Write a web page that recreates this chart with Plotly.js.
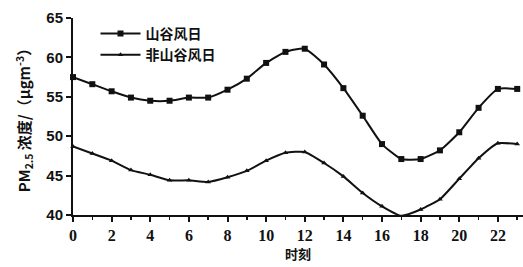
<!DOCTYPE html>
<html><head><meta charset="utf-8">
<script src="https://cdn.plot.ly/plotly-3.0.1.min.js"></script>
<style>body{margin:0;background:#fff}#c{width:523px;height:267px}</style>
</head><body><div id="c"></div>
<script>
const hours = [0,1,2,3,4,5,6,7,8,9,10,11,12,13,14,15,16,17,18,19,20,21,22,23];
const valleyDay = [57.5,56.6,55.7,54.9,54.5,54.5,54.9,54.9,55.9,57.3,59.3,60.7,61.1,59.1,56.1,52.6,49.0,47.1,47.1,48.2,50.5,53.6,56.0,56.0];
const nonValleyDay = [48.7,47.8,46.9,45.7,45.1,44.4,44.4,44.2,44.8,45.6,46.9,47.9,48.0,46.6,44.9,42.8,41.1,39.9,40.7,42.0,44.6,47.2,49.1,49.0];
const names = ['山谷风日','非山谷风日'];
const xTicks = [0,2,4,6,8,10,12,14,16,18,20,22];
const yTicks = [40,45,50,55,60,65];

const traces = [
  {x: hours, y: valleyDay, name: names[0], mode: 'lines+markers', type: 'scatter',
   line: {color: '#111', width: 2, shape: 'spline', smoothing: 0.5},
   marker: {symbol: 'square', size: 6, color: '#111'}, cliponaxis: false},
  {x: hours, y: nonValleyDay, name: names[1], mode: 'lines+markers', type: 'scatter',
   line: {color: '#111', width: 2, shape: 'spline', smoothing: 0.5},
   marker: {symbol: 'triangle-up', size: 5, color: '#111'}, cliponaxis: false}
];
const layout = {
  width: 523, height: 267,
  margin: {l: 73, r: 0, t: 18, b: 52},
  paper_bgcolor: '#fff', plot_bgcolor: '#fff',
  showlegend: true,
  legend: {x: 0.05, y: 1.0, xanchor: 'left', yanchor: 'top', bgcolor: 'rgba(0,0,0,0)',
           font: {family: 'Noto Sans CJK SC', size: 14, color: '#111', weight: 'bold'},
           tracegroupgap: 0, itemwidth: 40},
  xaxis: {range: [0, 23.3], tickvals: xTicks, ticktext: xTicks.map(String),
          showgrid: false, zeroline: false, showline: true, linecolor: '#111', linewidth: 2,
          ticks: 'outside', ticklen: 5, tickwidth: 2, tickcolor: '#111',
          minor: {dtick: 1, tick0: 1, ticks: 'outside', ticklen: 3, tickwidth: 1.5, tickcolor: '#111'},
          tickfont: {family: 'Liberation Serif', size: 16, color: '#111', weight: 'bold'},
          title: {text: '时刻', font: {family: 'Noto Sans CJK SC', size: 13, color: '#111', weight: 'bold'}, standoff: 4}},
  yaxis: {range: [40, 65], tickvals: yTicks, ticktext: yTicks.map(String),
          showgrid: false, zeroline: false, showline: true, linecolor: '#111', linewidth: 2,
          ticks: 'outside', ticklen: 5, tickwidth: 2, tickcolor: '#111',
          tickfont: {family: 'Liberation Sans', size: 15, color: '#111', weight: 'bold'},
          title: {text: 'PM<sub>2.5</sub> 浓度/（μgm<sup>-3</sup>）', font: {family: 'Noto Sans CJK SC', size: 15, color: '#111', weight: 'bold'}, standoff: 12}}
};
Plotly.newPlot('c', traces, layout, {displayModeBar: false, staticPlot: true});
</script></body></html>
